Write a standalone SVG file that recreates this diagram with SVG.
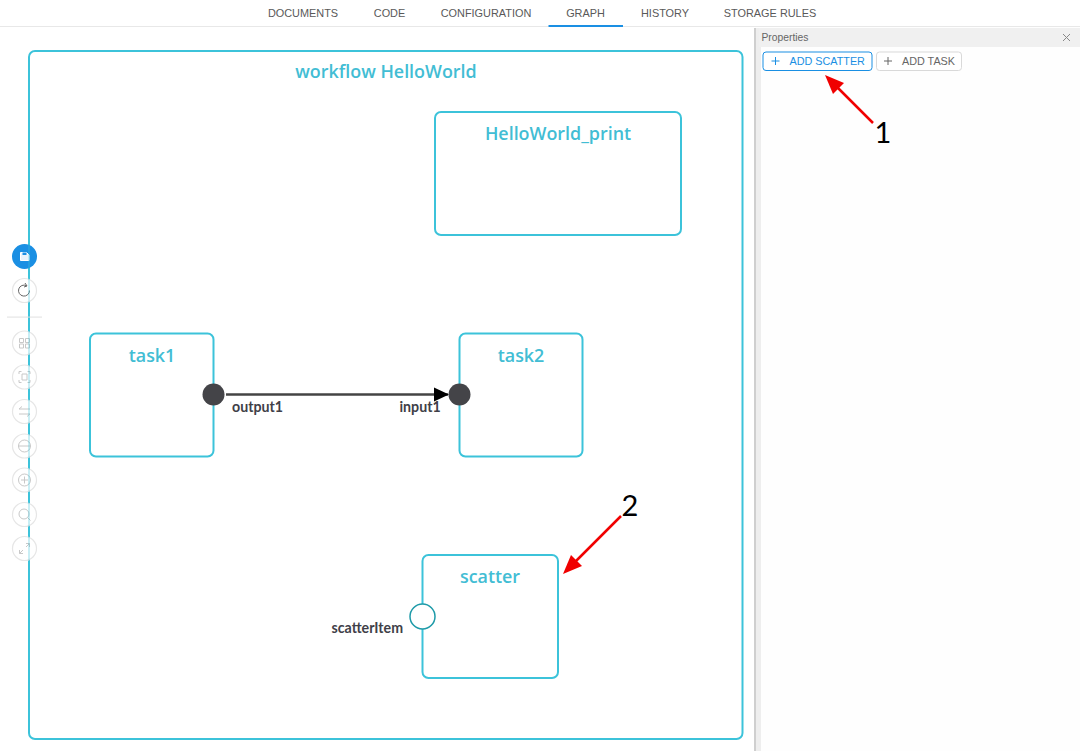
<svg xmlns="http://www.w3.org/2000/svg" width="1080" height="751" viewBox="0 0 1080 751">
<style>
.tab{font:10.900px "Liberation Sans",Arial,sans-serif;fill:#595959;text-anchor:middle}
.box{fill:#fff;stroke:#3cc3da;stroke-width:2}
.title{font:600 17.900px "Open Sans","Noto Sans",sans-serif;fill:#42bdd4;text-anchor:middle}
.port{font:700 14.200px Lato,"Noto Sans",sans-serif;fill:#404048}
.tool{fill:#fff;stroke:#e6e6e6;stroke-width:1.2}
.ic{fill:none;stroke:#c8c8c8;stroke-width:1}
.red{stroke:#f00000;stroke-width:2.500;fill:none}
.num{font:29px Lato,"Liberation Sans",sans-serif;fill:#000;text-anchor:middle}
.btn{font:10.800px "Liberation Sans",Arial,sans-serif}
</style>
<rect width="1080" height="751" fill="#fff"/>
<g id="tabs">
<rect x="0" y="26" width="1080" height="1" fill="#e8e8e8"/>
<text class="tab" x="303" y="17">DOCUMENTS</text>
<text class="tab" x="389.500" y="17">CODE</text>
<text class="tab" x="486" y="17">CONFIGURATION</text>
<text class="tab" x="585.500" y="17">GRAPH</text>
<text class="tab" x="665" y="17">HISTORY</text>
<text class="tab" x="770" y="17">STORAGE RULES</text>
<rect x="548.500" y="25" width="74.500" height="2" fill="#1a8fe3"/>
</g>
<g id="workflow"><rect class="box" x="29" y="51" width="713.500" height="688" rx="6"/><text class="title" x="386" y="78">workflow HelloWorld</text></g>
<g id="HelloWorld_print"><rect class="box" x="435" y="112" width="246" height="123" rx="6"/><text class="title" x="558" y="140">HelloWorld_print</text></g>
<g id="task1"><rect class="box" x="90" y="333.500" width="123.500" height="123" rx="6"/><text class="title" x="152" y="361.500">task1</text></g>
<g id="task2"><rect class="box" x="459.500" y="333.500" width="123" height="123" rx="6"/><text class="title" x="521" y="361.500">task2</text></g>
<g id="scatter"><rect class="box" x="422.500" y="555" width="135.500" height="123" rx="6"/><text class="title" x="490" y="583">scatter</text></g>
<g id="connectors">
<line x1="226" y1="394.500" x2="448" y2="394.500" stroke="#444" stroke-width="2.500"/>
<path d="M434 387.500L449 394.500L434 401.500Z" fill="#000"/>
</g>
<g id="ports">
<circle cx="213.500" cy="394.500" r="11" fill="#444448"/>
<circle cx="459.500" cy="394.500" r="11" fill="#444448"/>
<circle cx="422.500" cy="616.500" r="12.500" fill="#fff" stroke="#1d9aa8" stroke-width="1.500"/>
<text class="port" x="232" y="412">output1</text>
<text class="port" x="399.500" y="412">input1</text>
<text class="port" x="331.500" y="633">scatterItem</text>
</g>
<g id="toolbar">
<circle cx="24.500" cy="256.500" r="12.500" fill="#1a8fe3"/>
<path d="M20.500 252.500h6l2.500 2.500v5.500h-8.500z" fill="#e8f3fc" stroke="#fff"/>
<rect x="22.500" y="252.500" width="4" height="2.500" fill="#1a8fe3"/>
<circle class="tool" cx="24.500" cy="290.500" r="12"/>
<path d="M29.500 290.500a5.500 5.500 0 1 1-3-4.800" fill="none" stroke="#666" stroke-width="1"/>
<path d="M25 283l2 3-3 1" fill="none" stroke="#666" stroke-width="1"/>
<rect x="7" y="316.500" width="35" height="1.200" fill="#e6e6e6"/>
<circle class="tool" cx="24.500" cy="343" r="12"/>
<path class="ic" d="M19.500 338.500h4v4h-4zM25.500 338.500h4v4h-4zM19.500 344h4v4h-4zM25.500 344h4v4h-4z"/>
<circle class="tool" cx="24.500" cy="377" r="12"/>
<path class="ic" d="M19 374v-2.500h2.500M27.500 371.500H30v2.500M30 380v2.500h-2.500M21.500 382.500H19V380M22 374h5v6h-5z"/>
<circle class="tool" cx="24.500" cy="411.500" r="12"/>
<path class="ic" d="M19 409h11M19 414h11M22 406.500l-3 2.500M27 416.500l3-2.500"/>
<circle class="tool" cx="24.500" cy="446" r="12"/>
<circle class="ic" cx="24.500" cy="446" r="6"/><path class="ic" d="M18.500 446h12"/>
<circle class="tool" cx="24.500" cy="480" r="12"/>
<circle class="ic" cx="24.500" cy="480" r="6"/><path class="ic" d="M21 480h7M24.500 476.500v7"/>
<circle class="tool" cx="24.500" cy="514.500" r="12"/>
<circle class="ic" cx="24" cy="514" r="5"/><path class="ic" d="M27.500 517.500l3 3"/>
<circle class="tool" cx="24.500" cy="548.500" r="12"/>
<path class="ic" d="M19.500 553.500l3.500-3.500M26 547l3.500-3.500M26 543.500h3.500v3.500M19.500 550v3.500H23"/>
<line x1="29" y1="245" x2="29" y2="560" stroke="#3cc3da" stroke-width="1" opacity=".55"/>
</g>
<g id="properties">
<rect x="755" y="27" width="325" height="724" fill="#fefefe"/>
<rect x="754" y="28" width="2" height="723" fill="#cfcfcf"/>
<rect x="756" y="28" width="5" height="723" fill="#eeeeee"/>
<rect x="759" y="28" width="321" height="19" fill="#f0f0f0"/>
<text x="761.500" y="41" font-family="Liberation Sans,Arial,sans-serif" font-size="10.300" fill="#666">Properties</text>
<path d="M1063 34l7 7M1070 34l-7 7" stroke="#888" stroke-width="1" fill="none"/>
<rect x="763" y="52" width="109" height="18.500" rx="3" fill="#fff" stroke="#1a8fe3"/>
<path d="M771.500 61h8M775.500 57v8" stroke="#1a8fe3" stroke-width="1" fill="none"/>
<text class="btn" x="789.500" y="65" fill="#1a8fe3">ADD SCATTER</text>
<rect x="876.500" y="52" width="85" height="18.500" rx="3" fill="#fff" stroke="#d9d9d9"/>
<path d="M884 61h8M888 57v8" stroke="#666" stroke-width="1" fill="none"/>
<text class="btn" x="902" y="65" fill="#666">ADD TASK</text>
</g>
<g id="annotations">
<line class="red" x1="873" y1="123" x2="834" y2="84"/>
<path d="M825 75L844 83L833 94Z" fill="#f00000"/>
<text class="num" x="883" y="143">1</text>
<line class="red" x1="621" y1="516" x2="574" y2="563"/>
<path d="M563 574L571 555L582 566Z" fill="#f00000"/>
<text class="num" x="630" y="516">2</text>
</g>
</svg>
